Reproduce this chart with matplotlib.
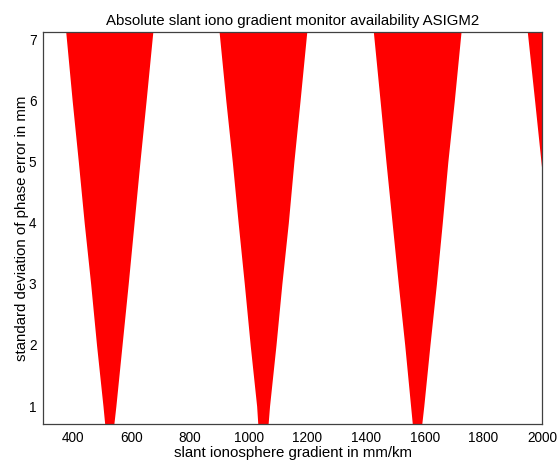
import matplotlib
matplotlib.use("Agg")
import matplotlib.pyplot as plt

plt.rcParams['font.family'] = ['Liberation Sans', 'DejaVu Sans']

# edges of the red (available) regions
y_lev = [0.7, 1, 2, 3, 4, 5, 6, 7.13]
w1_left = [509, 503, 481, 461, 439, 419, 398, 376]
w1_right = [540, 547, 568, 589, 609, 629, 650, 673]
w2_left = [1031, 1027, 1005, 985, 964, 944, 922, 899]
w2_right = [1066, 1071, 1093, 1113, 1135, 1154, 1175, 1198]
w3_left = [1558, 1552, 1532, 1510, 1489, 1468, 1448, 1425]
w3_right = [1590, 1597, 1618, 1640, 1660, 1679, 1701, 1724]
y_w4 = [4.8, 6, 7.13]
w4_left = [2001, 1975, 1950]
w4_right = [2100, 2100, 2100]

fig = plt.figure(figsize=(5.57, 4.68), dpi=100)
ax = fig.add_axes([0.078, 0.094, 0.895, 0.838])

red = '#ff0000'
for lo, hi in [(w1_left, w1_right), (w2_left, w2_right), (w3_left, w3_right)]:
    ax.fill_betweenx(y_lev, lo, hi, color=red, lw=0)
ax.fill_betweenx(y_w4, w4_left, w4_right, color=red, lw=0)

ax.set_xlim(300, 2000)
ax.set_ylim(0.705, 7.13)
ax.set_xticks(range(400, 2001, 200))
ax.set_yticks(range(1, 8))
ax.tick_params(direction='in', length=0, labelsize=9.8, pad=5)
for s in ax.spines.values():
    s.set_color('#404040')
    s.set_linewidth(0.9)

ax.set_title('Absolute slant iono gradient monitor availability ASIGM2', fontsize=10.8, pad=5)
ax.set_xlabel('slant ionosphere gradient in mm/km', fontsize=10.8, labelpad=1)
ax.set_ylabel('standard deviation of phase error in mm', fontsize=10.8, labelpad=0)

fig.savefig('out.png', dpi=100)
